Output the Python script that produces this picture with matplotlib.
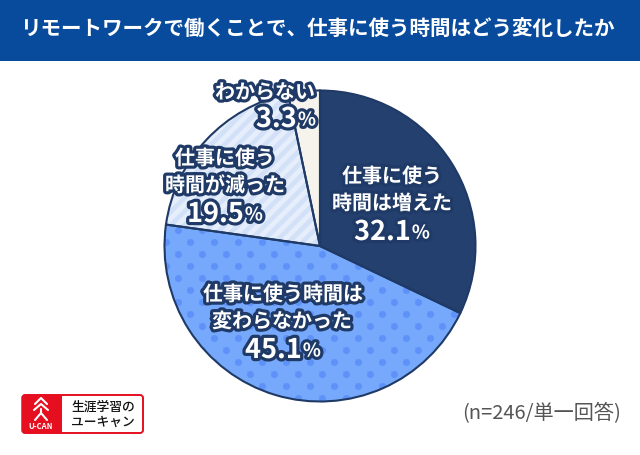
import matplotlib
matplotlib.use("Agg")
import numpy as np
import matplotlib.pyplot as plt
import matplotlib.patheffects as pe
from matplotlib.patches import Rectangle, FancyBboxPatch, Wedge

W, H = 640, 455
TITLE = "リモートワークで働くことで、仕事に使う時間はどう変化したか"
categories = ["仕事に使う\n時間は増えた", "仕事に使う時間は\n変わらなかった", "仕事に使う\n時間が減った", "わからない"]
values = [32.1, 45.1, 19.5, 3.3]
colors = ["#24406f", "#76a9fb", "#e6eefc", "#f6f3ec"]
NOTE = "(n=246/単一回答)"
NAVY = "#1f3a66"
JP = "Noto Sans CJK JP"

fig = plt.figure(figsize=(W / 100, H / 100), dpi=100, facecolor="white")
ax = fig.add_axes([0, 0, 1, 1])
def Y(py):
    return H - py

wedges, _ = ax.pie(values, colors=colors, startangle=90, counterclock=False,
                   center=(320, Y(246)), radius=155.5,
                   wedgeprops=dict(linewidth=0))
ax.set_xlim(0, W); ax.set_ylim(0, H); ax.set_aspect("auto"); ax.axis("off")

# header band
ax.add_patch(Rectangle((0, Y(60.5)), W, 60.5, fc="#084a9c", ec="none", zorder=1))
ax.text(317.5, Y(29.5), TITLE, color="white", fontsize=14.8, fontweight="bold",
        family=JP, ha="center", va="center", zorder=2)

# dot texture on the 45.1% slice
px, py = [], []
for r, row in enumerate(np.arange(242 - 12 * 4, 410, 12)):
    off = 0 if r % 2 == 0 else 12
    for x in np.arange(166 - 24 * 2 + off, 500, 24):
        px.append(x); py.append(Y(row))
dots = ax.scatter(px, py, s=26, color="#5f92f8", linewidths=0, zorder=2)
dots.set_clip_path(wedges[1])

# stripe texture on the 19.5% slice
for c in np.arange(-100, 900, 13.5):
    ln, = ax.plot([0, 640], [c - 300, c + 640 - 300], color="#d2e0f8", lw=3.4, zorder=2,
                  solid_capstyle="butt")
    ln.set_clip_path(wedges[2])
ax.set_xlim(0, W); ax.set_ylim(0, H)

# outlines
for w in wedges:
    ax.add_patch(Wedge(w.center, w.r, w.theta1, w.theta2, fc="none", ec=NAVY, lw=1.5, zorder=3))

stroke = [pe.withStroke(linewidth=4.6, foreground=NAVY)]

def label(px_, py_, s, size=14.4):
    ax.text(px_, Y(py_), s, color="white", fontsize=size, fontweight="bold", family=JP,
            ha="center", va="center", path_effects=stroke, zorder=5)

def pct(cx, py_, v):
    num = ax.text(0, Y(py_), f"{v:.1f}", color="white", fontsize=19.5, fontweight="bold",
                  family=JP, ha="left", va="center", path_effects=stroke, zorder=5)
    p = ax.text(0, Y(py_ + 1), "%", color="white", fontsize=13.5, fontweight="bold",
                family=JP, ha="left", va="center", path_effects=stroke, zorder=5)
    r = fig.canvas.get_renderer()
    w1 = num.get_window_extent(r).width
    w2 = p.get_window_extent(r).width
    x0 = cx - (w1 + w2 + 1) / 2
    num.set_x(x0)
    p.set_x(x0 + w1 + 1)

l = categories[0].split("\n")
label(392, 176, l[0]); label(392, 203, l[1]); pct(392, 232, values[0])
l = categories[1].split("\n")
label(283, 294, l[0]); label(282, 321, l[1]); pct(283, 350, values[1])
l = categories[2].split("\n")
label(225, 158, l[0]); label(225, 185, l[1]); pct(225, 214, values[2])
label(265, 92, categories[3]); pct(286, 119, values[3])

# footnote
ax.text(541.5, Y(414), NOTE, color="#555555", fontsize=14.5, family=JP,
        ha="center", va="center", zorder=5)

# logo
ax.add_patch(FancyBboxPatch((22.5, Y(433)), 120.5, 38, boxstyle="round,pad=0,rounding_size=3",
                            fc="white", ec="#e60f20", lw=1.4, zorder=4))
ax.add_patch(FancyBboxPatch((21.5, Y(433.5)), 40, 39, boxstyle="round,pad=0,rounding_size=3",
                            fc="#e60f20", ec="none", zorder=5))
ax.add_patch(Rectangle((50, Y(433.5)), 12, 39, fc="#e60f20", ec="none", zorder=5))
for xs, ys in [([35, 41, 47], [404, 398, 404]), ([34, 41, 48], [410, 404, 410]),
               ([41, 41], [409, 413]), ([41, 35], [413, 420]), ([41, 47], [413, 420])]:
    ax.plot(xs, [Y(v) for v in ys], color="white", lw=1.5, zorder=6, solid_capstyle="round")
ax.text(41, Y(426.5), "U-CAN", color="white", fontsize=5.6, fontweight="bold", family=JP,
        ha="center", va="center", zorder=6)
ax.text(103, Y(407), "生涯学習の", color="#111111", fontsize=9.2, fontweight="medium", family=JP,
        ha="center", va="center", zorder=6)
ax.text(103, Y(422), "ユーキャン", color="#111111", fontsize=9.2, fontweight="medium", family=JP,
        ha="center", va="center", zorder=6)

fig.savefig("out.png", dpi=100, facecolor="white")
